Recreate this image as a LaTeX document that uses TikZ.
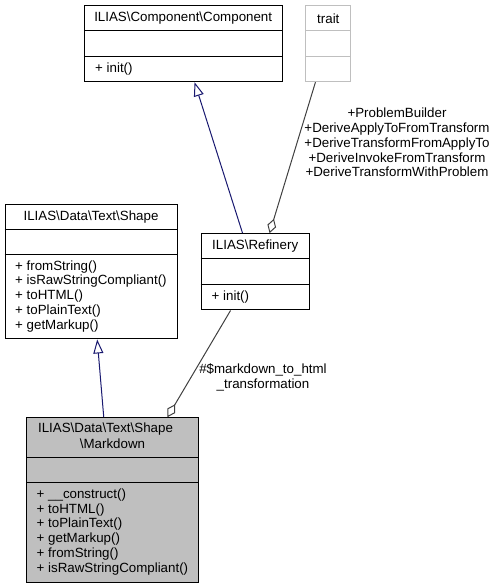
\documentclass[tikz,border=0pt]{standalone}
\usepackage{fontspec}
\setmainfont{Liberation Sans}
\usetikzlibrary{arrows.meta}

\definecolor{inheritblue}{HTML}{191970}
\definecolor{aggrgray}{HTML}{404040}
\definecolor{classgray}{HTML}{BFBFBF}

\begin{document}
\begin{tikzpicture}[x=1pt, y=-1pt,
    every node/.style={font=\fontsize{13.33}{14.8}\selectfont, inner sep=0pt},
    classbox/.style={draw, line width=1pt},
    classline/.style={line width=1pt},
    inherit/.style={draw=inheritblue, line width=1pt, -{Triangle[open, length=14pt, width=10pt]}},
    aggr/.style={draw=aggrgray, line width=1pt, -{Diamond[open, length=15pt, width=9pt]}}]
    \useasboundingbox (0,0) rectangle (495,588);

    % ILIAS\Component\Component
    \node[classbox, minimum width=197.7pt, minimum height=76pt] (comp) at (183.2,43.7) {};
    \draw[classline] ([yshift=-25.6pt]comp.north west) -- ([yshift=-25.6pt]comp.north east);
    \draw[classline] ([yshift=-51pt]comp.north west) -- ([yshift=-51pt]comp.north east);
    \node (compname) at (183.2,18.5) {ILIAS\textbackslash Component\textbackslash Component};
    \node[anchor=west] (compops) at (95,69.2) {+ init()};

    % trait
    \node[classbox, draw=classgray, minimum width=44.7pt, minimum height=76pt] (trait) at (328.3,43.7) {};
    \draw[classline, classgray] ([yshift=-25.6pt]trait.north west) -- ([yshift=-25.6pt]trait.north east);
    \draw[classline, classgray] ([yshift=-51pt]trait.north west) -- ([yshift=-51pt]trait.north east);
    \node (traitname) at (328.3,18.5) {trait};

    % ILIAS\Data\Text\Shape
    \node[classbox, minimum width=172pt, minimum height=134.3pt] (shape) at (91,271.8) {};
    \draw[classline] ([yshift=-25.3pt]shape.north west) -- ([yshift=-25.3pt]shape.north east);
    \draw[classline] ([yshift=-50.6pt]shape.north west) -- ([yshift=-50.6pt]shape.north east);
    \node (shapename) at (91,217.3) {ILIAS\textbackslash Data\textbackslash Text\textbackslash Shape};
    \node[anchor=west, align=left] (shapeops) at (15,296.3) {+ fromString()\\+ isRawStringCompliant()\\+ toHTML()\\+ toPlainText()\\+ getMarkup()};

    % ILIAS\Refinery
    \node[classbox, minimum width=108.3pt, minimum height=76.3pt] (refin) at (255.2,271.8) {};
    \draw[classline] ([yshift=-25.6pt]refin.north west) -- ([yshift=-25.6pt]refin.north east);
    \draw[classline] ([yshift=-51pt]refin.north west) -- ([yshift=-51pt]refin.north east);
    \node (refinname) at (255.2,246.5) {ILIAS\textbackslash Refinery};
    \node[anchor=west] (refinops) at (211.5,296.7) {+ init()};

    % ILIAS\Data\Text\Shape\Markdown
    \node[classbox, fill=classgray, minimum width=172.3pt, minimum height=164.6pt] (mdown) at (112.8,500) {};
    \draw[classline] ([yshift=-40.3pt]mdown.north west) -- ([yshift=-40.3pt]mdown.north east);
    \draw[classline] ([yshift=-65.6pt]mdown.north west) -- ([yshift=-65.6pt]mdown.north east);
    \node (mdownname) at (105.5,429.3) {ILIAS\textbackslash Data\textbackslash Text\textbackslash Shape};
    \node (mdownname2) at (112.5,443.3) {\textbackslash Markdown};
    \node[anchor=west, align=left] (mdownops) at (36.5,531.8) {+ \_\_construct()\\+ toHTML()\\+ toPlainText()\\+ getMarkup()\\+ fromString()\\+ isRawStringCompliant()};

    % connectors
    \draw[inherit] ([xshift=42pt]refin.north west) -- ([xshift=110.7pt]comp.south west);
    \draw[aggr] ([xshift=10pt]trait.south west) -- ([xshift=69pt]refin.north west);
    \node[align=center] (traitlbl) at (397,142.5) {+ProblemBuilder\\+DeriveApplyToFromTransform\\+DeriveTransformFromApplyTo\\+DeriveInvokeFromTransform\\+DeriveTransformWithProblem};
    \draw[inherit] ([xshift=77.6pt]mdown.north west) -- ([xshift=92.7pt]shape.south west);
    \draw[aggr] ([xshift=30pt]refin.south west) -- ([xshift=141.3pt]mdown.north west);
    \node[align=center] (mdownlbl) at (263,377.5) {\#\$markdown\_to\_html\\\_transformation};
\end{tikzpicture}
\end{document}
